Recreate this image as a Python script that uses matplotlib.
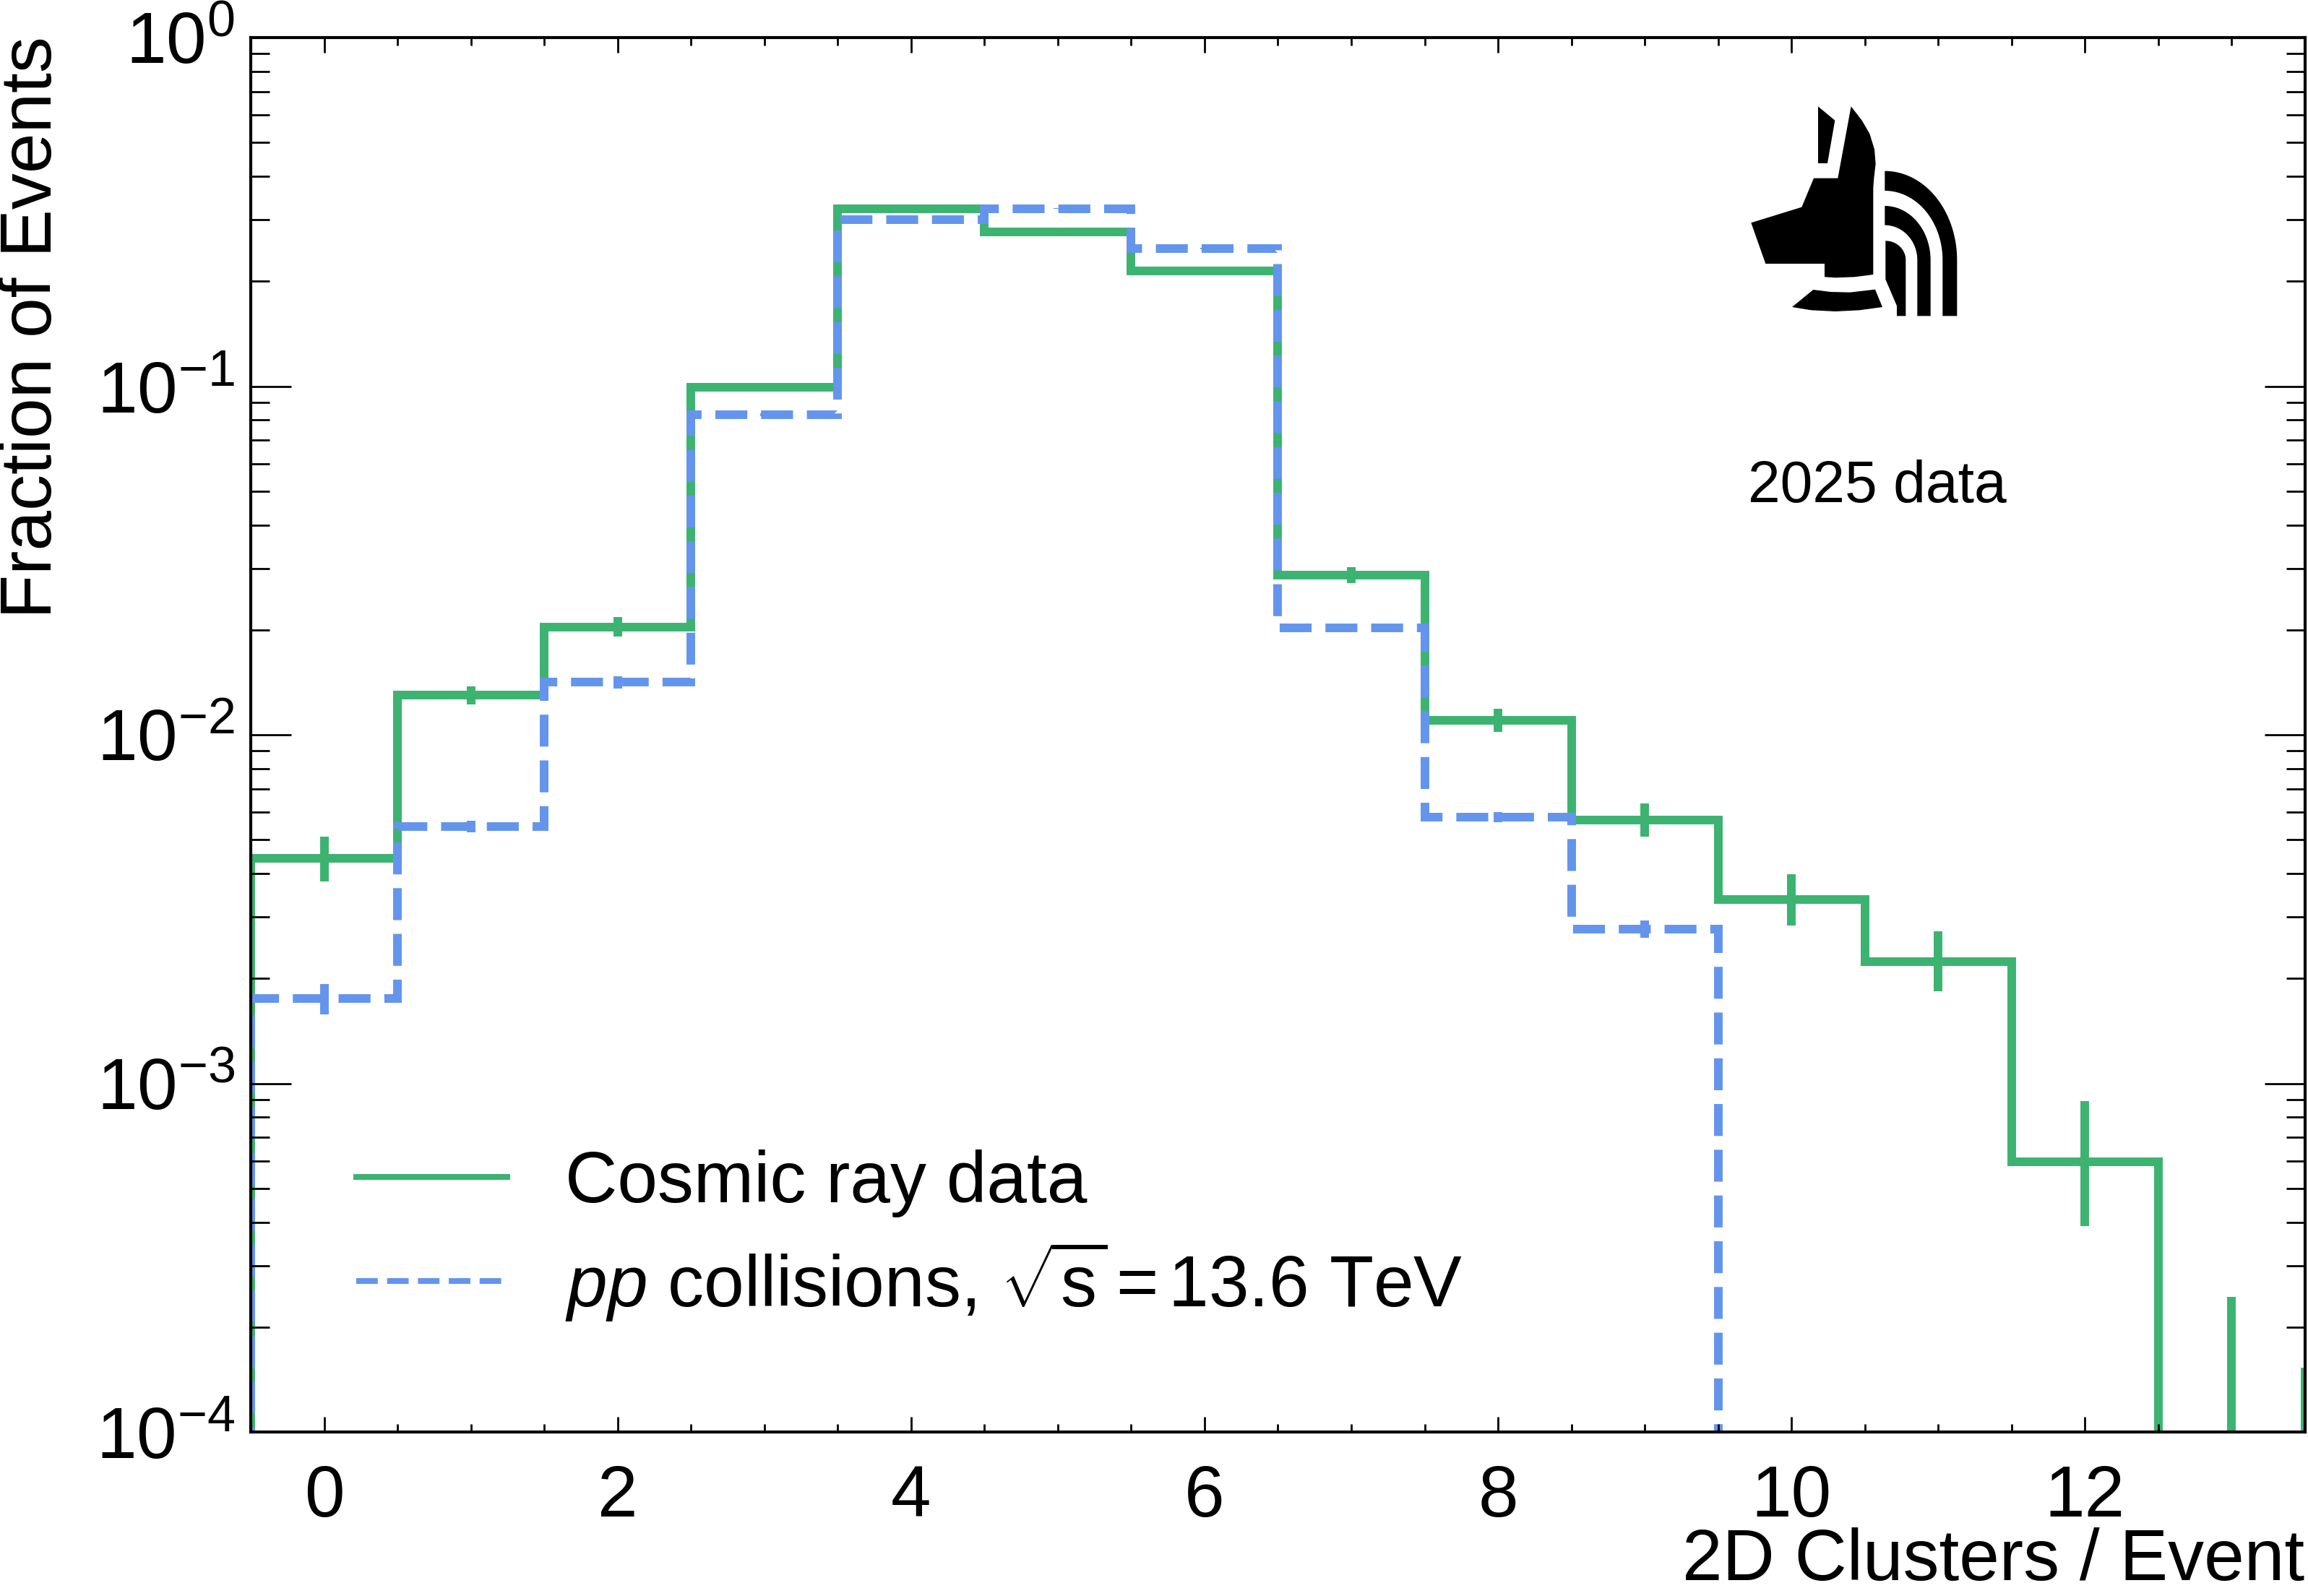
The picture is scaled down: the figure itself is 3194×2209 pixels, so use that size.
import numpy as np
import matplotlib
matplotlib.use('Agg')
import matplotlib.pyplot as plt
from matplotlib.lines import Line2D
from matplotlib.patches import Polygon
from matplotlib.ticker import MultipleLocator, LogLocator, NullFormatter

plt.rcParams['font.family'] = ['Liberation Sans', 'DejaVu Sans']
plt.rcParams['mathtext.fontset'] = 'custom'
plt.rcParams['mathtext.rm'] = 'Liberation Sans'
plt.rcParams['mathtext.it'] = 'Liberation Sans:italic'
plt.rcParams['mathtext.bf'] = 'Liberation Sans:bold'

W, H = 3194, 2209
green = '#3cb371'
blue = '#6495ed'

# cosmic ray data, fraction of events per number of 2D clusters
cosmic_clusters = [0, 1, 2, 3, 4, 5, 6, 7, 8, 9, 10, 11, 12]
cosmic = [4.42e-3, 1.30e-2, 2.04e-2, 9.93e-2, 0.323, 0.277, 0.214,
          2.87e-2, 1.10e-2, 5.70e-3, 3.37e-3, 2.24e-3, 5.96e-4]
cosmic_lo = [3.8e-3, 1.22e-2, 1.91e-2, 9.80e-2, 0.321, 0.275, 0.212,
             2.73e-2, 1.02e-2, 5.10e-3, 2.84e-3, 1.84e-3, 3.9e-4]
cosmic_hi = [5.1e-3, 1.38e-2, 2.18e-2, 1.005e-1, 0.325, 0.279, 0.216,
             3.02e-2, 1.19e-2, 6.35e-3, 3.99e-3, 2.73e-3, 8.9e-4]
# empty bins in the tail, only the error bar is visible
tail_x = [13, 13.5]
tail_hi = [2.44e-4, 1.53e-4]

# pp collisions
pp_clusters = [0, 1, 2, 3, 4, 5, 6, 7, 8, 9]
pp = [1.75e-3, 5.45e-3, 1.417e-2, 8.28e-2, 0.300, 0.323, 0.248,
      2.03e-2, 5.80e-3, 2.77e-3]
pp_lo = [1.58e-3, 5.25e-3, 1.36e-2, 8.20e-2, 0.299, 0.322, 0.247,
         2.00e-2, 5.60e-3, 2.61e-3]
pp_hi = [1.93e-3, 5.66e-3, 1.475e-2, 8.36e-2, 0.301, 0.324, 0.249,
         2.06e-2, 6.00e-3, 2.93e-3]


def edges_of(centers):
    c = np.asarray(centers, dtype=float)
    return np.append(c - 0.5, c[-1] + 0.5)


fig = plt.figure(figsize=(W / 200, H / 200), dpi=200)
ax = fig.add_axes([347 / W, 1 - 1982 / H, (3190 - 347) / W, (1982 - 52) / H])
ax.set_yscale('log')

lw = 4.3
ax.stairs(cosmic, edges_of(cosmic_clusters), baseline=1e-9, color=green, lw=lw)
ax.vlines(cosmic_clusters, cosmic_lo, cosmic_hi, color=green, lw=lw)
ax.vlines(tail_x, [0, 0], tail_hi, color=green, lw=lw)
ax.stairs(pp, edges_of(pp_clusters), baseline=1e-9, color=blue, lw=lw, linestyle='--')
ax.vlines(pp_clusters, pp_lo, pp_hi, color=blue, lw=lw)

ax.set_xlim(-0.5, 13.5)
ax.set_ylim(1e-4, 1)

ax.xaxis.set_major_locator(MultipleLocator(2))
ax.xaxis.set_minor_locator(MultipleLocator(0.5))
ax.yaxis.set_major_locator(LogLocator(base=10, numticks=10))
ax.yaxis.set_minor_locator(LogLocator(base=10, subs=np.arange(2, 10), numticks=20))
ax.yaxis.set_minor_formatter(NullFormatter())

ax.tick_params(which='both', direction='in', top=True, right=True, width=1.0,
               labelsize=36)
ax.tick_params(axis='x', which='major', length=7.5, pad=16)
ax.tick_params(axis='x', which='minor', length=4)
ax.tick_params(axis='y', which='major', length=20, pad=8)
ax.tick_params(axis='y', which='minor', length=9.5)
for s in ax.spines.values():
    s.set_linewidth(1.5)

fig.text(45 / W, 1 - 50 / H, 'Fraction of Events', rotation=90,
         ha='center', va='top', fontsize=36)
fig.text(1 - 5 / W, 1 / H, '2D Clusters / Event', ha='right', va='bottom', fontsize=36)
fig.text(2598 / W, 1 - 674 / H, '2025 data', ha='center', va='center', fontsize=29)

handles = [Line2D([], [], color=green, lw=2.9),
           Line2D([], [], color=blue, lw=2.9, linestyle='--')]
labels = ['Cosmic ray data',
          r'$\mathit{pp}$ collisions, $\sqrt{\mathrm{s}}\,$=$\,$13.6 TeV']
ax.legend(handles, labels, loc='lower left', bbox_to_anchor=(0.0514, 0.078),
          frameon=False, fontsize=36, handlelength=2.09, handletextpad=0.8,
          labelspacing=0.3, borderpad=0, borderaxespad=0)

# experiment logo
lax = fig.add_axes([2300 / W, 1 - 500 / H, 500 / W, 400 / H])
lax.set_xlim(0, 1500)
lax.set_ylim(1200, 0)
lax.axis('off')

head = [(785, 142), (830, 200), (862, 255), (882, 320), (887, 380), (880, 440),
        (877, 480), (877, 840), (800, 850), (720, 853), (675, 850), (675, 795),
        (430, 795), (370, 625), (580, 560), (630, 440), (730, 440)]
ear = [(648, 142), (718, 200), (687, 378), (648, 378)]
collar = [(628, 903), (700, 912), (780, 914), (885, 902), (915, 975),
          (820, 988), (720, 993), (620, 988), (540, 975)]
for pts in (head, ear, collar):
    lax.add_patch(Polygon(pts, closed=True, fc='black', ec='none'))

cx, cy, bot = 925, 780, 1012
t = np.linspace(0, np.pi / 2, 40)


def band(h_out, v_out, h_in, v_in):
    outer = [(cx + h_out * np.sin(a), cy - v_out * np.cos(a)) for a in t]
    inner = [(cx + h_in * np.sin(a), cy - v_in * np.cos(a)) for a in t[::-1]]
    return outer + [(cx + h_out, bot), (cx + h_in, bot)] + inner


lax.add_patch(Polygon(band(300, 370, 240, 288), closed=True, fc='black', ec='none'))
lax.add_patch(Polygon(band(190, 225, 135, 145), closed=True, fc='black', ec='none'))
inner3 = [(cx + 3 + 84 * np.sin(a), cy - 80 * np.cos(a)) for a in t]
lax.add_patch(Polygon(inner3 + [(1012, bot), (975, bot), (975, 970), (928, 860)],
                      closed=True, fc='black', ec='none'))

fig.savefig('out.png', dpi=200)
